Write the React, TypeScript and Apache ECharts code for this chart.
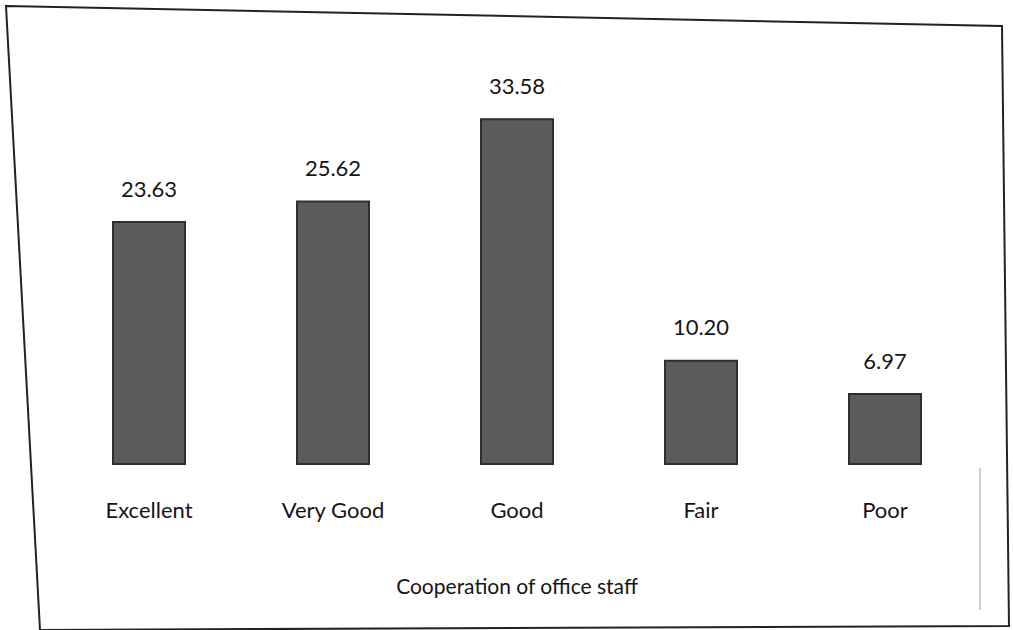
import React, { useEffect, useRef } from "react";
import * as echarts from "echarts";

const categories = ["Excellent", "Very Good", "Good", "Fair", "Poor"];
const values = [23.63, 25.62, 33.58, 10.2, 6.97];
const valueLabels = ["23.63", "25.62", "33.58", "10.20", "6.97"];
const axisTitle = "Cooperation of office staff";

export default function App() {
  const ref = useRef<HTMLDivElement>(null);
  useEffect(() => {
    if (!ref.current) return;
    const chart = echarts.init(ref.current, null, { renderer: "svg" });
    chart.setOption({
      animation: false,
      backgroundColor: "#ffffff",
      textStyle: { fontFamily: "Lato" },
      grid: { left: 57, right: 36, top: 52, bottom: 165 },
      xAxis: {
        type: "category",
        data: categories,
        axisLine: { show: false },
        axisTick: { show: false },
        axisLabel: { color: "#151515", fontSize: 22, margin: 33, fontFamily: "Lato" },
        name: axisTitle,
        nameLocation: "middle",
        nameGap: 110,
        nameTextStyle: { color: "#151515", fontSize: 21, fontFamily: "Lato" },
      },
      yAxis: {
        type: "value",
        min: 0,
        max: 40,
        show: false,
        splitLine: { show: false },
      },
      series: [
        {
          type: "bar",
          data: values,
          barWidth: 74,
          itemStyle: { color: "#5b5b5b", borderColor: "#2e2e2e", borderWidth: 2 },
          label: {
            show: true,
            position: "top",
            distance: 22,
            color: "#151515",
            fontSize: 22,
            fontFamily: "Lato",
            formatter: (p: any) => valueLabels[p.dataIndex],
          },
        },
      ],
      graphic: [
        {
          type: "polygon",
          shape: { points: [[6, 6], [1002, 26], [1009, 626], [40, 630]] },
          style: { fill: "none", stroke: "#222", lineWidth: 2 },
          silent: true,
        },
        {
          type: "line",
          shape: { x1: 980, y1: 468, x2: 980, y2: 610 },
          style: { stroke: "#999", lineWidth: 1 },
          silent: true,
        },
      ],
    });
    return () => chart.dispose();
  }, []);
  return <div ref={ref} style={{ width: 1013, height: 630, position: "absolute", left: 0, top: 0 }} />;
}
